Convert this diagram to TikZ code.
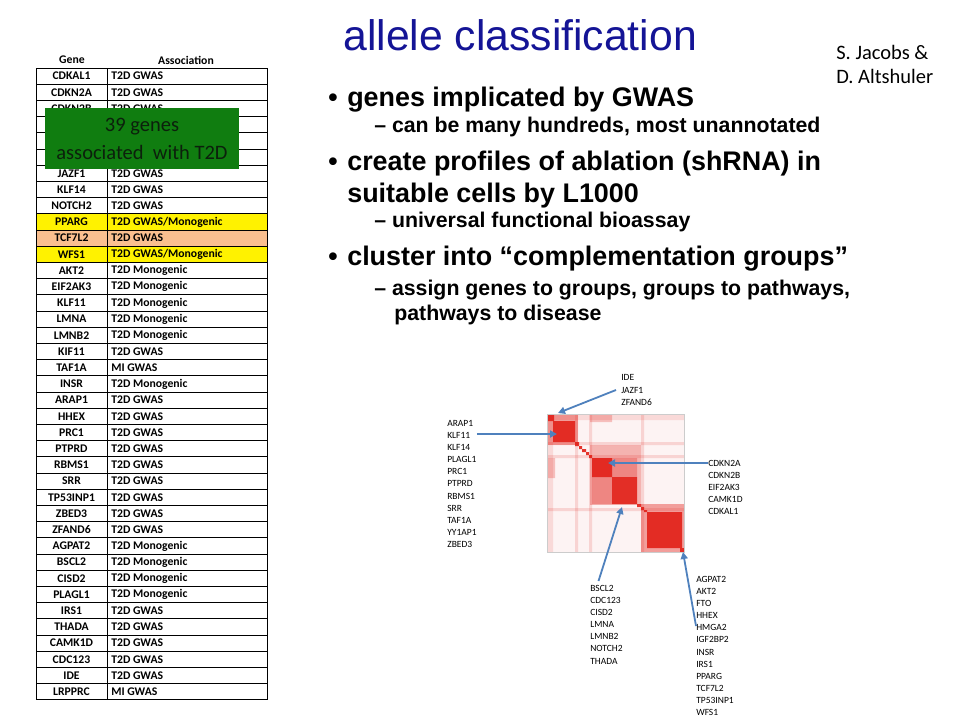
\documentclass[tikz,border=0pt]{standalone}
\usepackage{fontspec}
\setmainfont{Carlito}
\newfontfamily\arialfont{Liberation Sans}
\usetikzlibrary{arrows.meta, positioning}
\definecolor{titleblue}{RGB}{20,20,150}
\definecolor{notegreen}{RGB}{16,125,16}
\definecolor{notetext}{RGB}{12,32,12}
\definecolor{tcfpeach}{RGB}{250,191,143}
\definecolor{hmred}{RGB}{226,32,24}
\definecolor{arrowblue}{RGB}{79,129,189}

\begin{document}
\begin{tikzpicture}[x=1pt, y=-1pt, >={Triangle[length=7pt,width=7pt]}, semithick]
    \tikzstyle{every node}=[inner sep=0pt, text=black]
    \tikzstyle{titletext}=[anchor=base west, text=titleblue, font=\arialfont\fontsize{42.7}{50}\selectfont]
    \tikzstyle{author}=[anchor=north west, align=left, font=\fontsize{20.5}{24}\selectfont]
    \tikzstyle{dot}=[anchor=base west, font=\arialfont\bfseries\fontsize{26.7}{32}\selectfont]
    \tikzstyle{point}=[anchor=base west, font=\arialfont\bfseries\fontsize{26.9}{32}\selectfont]
    \tikzstyle{subpoint}=[anchor=base west, font=\arialfont\bfseries\fontsize{21.3}{25}\selectfont]
    \tikzstyle{genecell}=[font=\bfseries\fontsize{11.7}{13}\selectfont]
    \tikzstyle{assoccell}=[anchor=west, font=\bfseries\fontsize{11.7}{13}\selectfont]
    \tikzstyle{notebox}=[fill=notegreen, text=notetext, minimum width=194pt, minimum height=61pt, align=center, font=\fontsize{20.5}{28}\selectfont]
    \tikzstyle{genelist}=[anchor=north west, align=left, font=\fontsize{9.5}{12.1}\selectfont]
    \tikzstyle{callout}=[->, draw=arrowblue, line width=1.8pt]

    \useasboundingbox (0,0) rectangle (960,720);
    \fill[white] (0,0) rectangle (960,720);

    % header texts
    \node[titletext] (title) at (343,50) {allele classification};
    \node[author]    (auth) at (836,45.4) {S. Jacobs \&\\D. Altshuler};

    \node[dot]      (dot1) at (328,106)   {•};
    \node[point]    (pt1)  at (347,106)   {genes implicated by GWAS};
    \node[subpoint] (sub1) at (374,132.7) {– can be many hundreds, most unannotated};
    \node[dot]      (dot2) at (328,170.7) {•};
    \node[point]    (pt2)  at (347,170.7) {create profiles of ablation (shRNA) in};
    \node[point]    (pt2b) at (347,202.3) {suitable cells by L1000};
    \node[subpoint] (sub2) at (374,227.3) {– universal functional bioassay};
    \node[dot]      (dot3) at (328,265.7) {•};
    \node[point]    (pt3)  at (347,265.7) {cluster into “complementation groups”};
    \node[subpoint] (sub3) at (374,295)   {– assign genes to groups, groups to pathways,};
    \node[subpoint] (sub3b) at (394,320.5) {pathways to disease};

    % gene table
    \node[genecell] (hgene) at (72,60)  {Gene};
    \node[genecell] (hassoc) at (186,60) {Association};
    \foreach \g/\a/\c [count=\i] in {CDKAL1/T2D GWAS/white, CDKN2A/T2D GWAS/white, CDKN2B/T2D GWAS/white,
        {}/{}/white, {}/{}/white, {}/{}/white, JAZF1/T2D GWAS/white, KLF14/T2D GWAS/white,
        NOTCH2/T2D GWAS/white, PPARG/{T2D GWAS/Monogenic}/yellow, TCF7L2/T2D GWAS/tcfpeach,
        WFS1/{T2D GWAS/Monogenic}/yellow, AKT2/T2D Monogenic/white, EIF2AK3/T2D Monogenic/white,
        KLF11/T2D Monogenic/white, LMNA/T2D Monogenic/white, LMNB2/T2D Monogenic/white,
        KIF11/T2D GWAS/white, TAF1A/MI GWAS/white, INSR/T2D Monogenic/white, ARAP1/T2D GWAS/white,
        HHEX/T2D GWAS/white, PRC1/T2D GWAS/white, PTPRD/T2D GWAS/white, RBMS1/T2D GWAS/white,
        SRR/T2D GWAS/white, TP53INP1/T2D GWAS/white, ZBED3/T2D GWAS/white, ZFAND6/T2D GWAS/white,
        AGPAT2/T2D Monogenic/white, BSCL2/T2D Monogenic/white, CISD2/T2D Monogenic/white,
        PLAGL1/T2D Monogenic/white, IRS1/T2D GWAS/white, THADA/T2D GWAS/white,
        CAMK1D/T2D GWAS/white, CDC123/T2D GWAS/white, IDE/T2D GWAS/white, LRPPRC/MI GWAS/white}
    {
        \fill[\c] (36,{68+(\i-1)*16.2}) rectangle (267,{68+\i*16.2});
        \node[genecell]  (g\i) at (71.5,{68+(\i-0.5)*16.2}) {\g};
        \node[assoccell] (a\i) at (111,{68+(\i-0.5)*16.2}) {\a};
    }
    \foreach \i in {0,...,39}
        \draw[line width=0.9pt] (36,{68+\i*16.2}) -- (267,{68+\i*16.2});
    \draw[line width=0.9pt] (36,68) -- (36,699.8) (107,68) -- (107,699.8) (267,68) -- (267,699.8);

    \node[notebox] (note) at (142,138.5) {39 genes\\associated\ \ with T2D};

    % clustered matrix
    \fill[hmred, opacity=.05] (547,414) rectangle (684,552);
    \fill[hmred, opacity=.12] (547,414) rectangle (553,552) (547,414) rectangle (684,420);
    \fill[hmred, opacity=.15] (575,414) rectangle (578,552) (589,414) rectangle (592,552) (641,414) rectangle (644,552);
    \fill[hmred, opacity=.15] (547,442) rectangle (684,445) (547,455) rectangle (684,458) (547,508) rectangle (684,511);
    \fill[hmred, opacity=.25] (590,414) rectangle (612,422) (547,458) rectangle (555,478);
    \fill[hmred, opacity=.40] (547,414) rectangle (578,445);
    \fill[hmred, opacity=.30] (590,445) rectangle (641,505);
    \fill[hmred, opacity=.30] (592,458) rectangle (612,504) (592,458) rectangle (637,477);
    \fill[hmred, opacity=.40] (641,504) rectangle (684,552);
    \fill[hmred, opacity=.9] (547,414) rectangle (554,421) (553,421) rectangle (575,442)
        (575,442) rectangle (579,446) (579,446) rectangle (582,449) (582,449) rectangle (586,452)
        (586,452) rectangle (589,455) (589,455) rectangle (592,458)
        (592,458) rectangle (612,477) (612,477) rectangle (637,504)
        (637,504) rectangle (641,507) (641,507) rectangle (644,510) (644,510) rectangle (647,512)
        (647,512) rectangle (682,548) (680,548) rectangle (684,552);
    \draw[gray!40, line width=0.5pt] (547,414) rectangle (684,552);

    \coordinate (hA) at (558,413);
    \coordinate (hB) at (557,434);
    \coordinate (hC) at (608,463);
    \coordinate (hD) at (622,507);
    \coordinate (hE) at (683,552);

    \node[genelist] (ide)   at (621,374.5) {IDE\\JAZF1\\ZFAND6};
    \node[genelist] (arap)  at (447,420)   {ARAP1\\KLF11\\KLF14\\PLAGL1\\PRC1\\PTPRD\\RBMS1\\SRR\\TAF1A\\YY1AP1\\ZBED3};
    \node[genelist] (cdkn)  at (708,460)   {CDKN2A\\CDKN2B\\EIF2AK3\\CAMK1D\\CDKAL1};
    \node[genelist] (bscl)  at (590,585)   {BSCL2\\CDC123\\CISD2\\LMNA\\LMNB2\\NOTCH2\\THADA};
    \node[genelist] (agpat) at (696,576)   {AGPAT2\\AKT2\\FTO\\HHEX\\HMGA2\\IGF2BP2\\INSR\\IRS1\\PPARG\\TCF7L2\\TP53INP1\\WFS1};

    \draw[callout] ([xshift=-5pt]ide.west) -- (hA);
    \draw[callout] (hB -| arap.east) -- (hB);
    \draw[callout] (hC -| cdkn.west) -- (hC);
    \draw[callout] ([xshift=-8pt,yshift=4pt]bscl.north) -- (hD);
    \draw[callout] ([yshift=20pt]agpat.west) -- (hE);

\end{tikzpicture}
\end{document}
